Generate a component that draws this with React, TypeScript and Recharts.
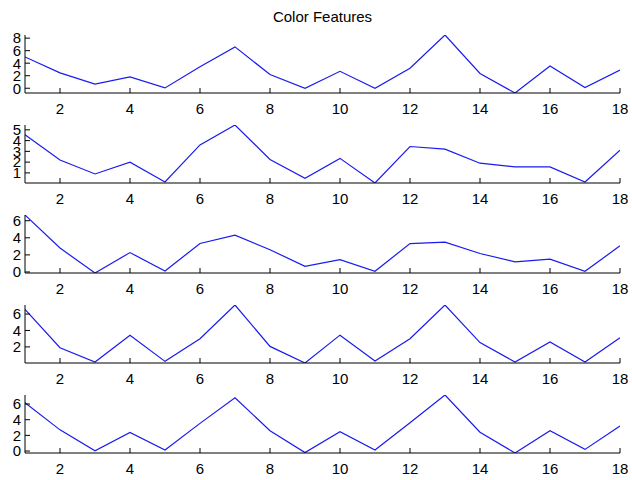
import { LineChart, Line, XAxis, YAxis } from "recharts";

const xValues = [1, 2, 3, 4, 5, 6, 7, 8, 9, 10, 11, 12, 13, 14, 15, 16, 17, 18];
const xTicks = [2, 4, 6, 8, 10, 12, 14, 16, 18];

const feature1 = [5.0, 2.45, 0.66, 1.82, 0.05, 3.44, 6.6, 2.2, 0.0, 2.7, 0.0, 3.2, 8.5, 2.35, -0.76, 3.55, 0.1, 2.9];
const feature2 = [4.55, 2.2, 0.9, 2.0, 0.15, 3.6, 5.45, 2.25, 0.5, 2.35, 0.06, 3.45, 3.2, 1.9, 1.55, 1.55, 0.15, 3.1];
const feature3 = [6.67, 2.8, -0.12, 2.27, 0.12, 3.33, 4.3, 2.6, 0.67, 1.45, 0.08, 3.33, 3.5, 2.16, 1.18, 1.5, 0.08, 3.06];
const feature4 = [6.57, 1.9, 0.16, 3.43, 0.24, 3.0, 7.1, 2.06, 0.04, 3.43, 0.29, 3.0, 7.1, 2.53, 0.16, 2.61, 0.16, 3.1];
const feature5 = [6.17, 2.7, 0.04, 2.36, 0.13, 3.53, 6.8, 2.6, -0.2, 2.47, 0.13, 3.62, 7.15, 2.4, -0.25, 2.6, 0.21, 3.2];

const yTicks1 = [0, 2, 4, 6, 8];
const yTicks2 = [1, 2, 3, 4, 5];
const yTicks3 = [0, 2, 4, 6];
const yTicks4 = [2, 4, 6];
const yTicks5 = [0, 2, 4, 6];

const panels = [
  { values: feature1, ticks: yTicks1 },
  { values: feature2, ticks: yTicks2 },
  { values: feature3, ticks: yTicks3 },
  { values: feature4, ticks: yTicks4 },
  { values: feature5, ticks: yTicks5 },
];

const FONT = "'Liberation Sans', Arial, sans-serif";
const tickStyle = { fontSize: 15, fill: "#000", fontFamily: FONT };
const blank = () => "";

const PLOT_H = 58;
const TOP_PAD = 5;
const BOTTOM_H = 27;

function Panel({ values, ticks, top }: { values: number[]; ticks: number[]; top: number }) {
  const data = xValues.map((x, i) => ({ x, y: values[i] }));
  const domain = [Math.min(...values), Math.max(...values)];
  return (
    <div style={{ position: "absolute", left: 0, top: top - TOP_PAD }}>
      <LineChart
        width={632}
        height={PLOT_H + TOP_PAD + BOTTOM_H}
        data={data}
        margin={{ top: TOP_PAD, right: 12, bottom: 0, left: 0 }}
      >
        <XAxis
          dataKey="x"
          type="number"
          domain={[1, 18]}
          ticks={xTicks}
          allowDataOverflow
          height={BOTTOM_H}
          stroke="#000"
          tickSize={-5}
          tickMargin={15}
          tick={tickStyle}
          interval={0}
        />
        <XAxis
          xAxisId="top"
          orientation="top"
          dataKey="x"
          type="number"
          domain={[1, 18]}
          ticks={xTicks}
          height={0}
          stroke="#000"
          tickSize={-5}
          tickFormatter={blank}
          interval={0}
        />
        <YAxis
          type="number"
          domain={domain}
          ticks={ticks}
          allowDataOverflow
          width={25}
          stroke="#000"
          tickSize={-5}
          tickMargin={9}
          tick={tickStyle}
          interval={0}
        />
        <YAxis
          yAxisId="r"
          orientation="right"
          type="number"
          domain={domain}
          ticks={ticks}
          allowDataOverflow
          width={0}
          stroke="#000"
          tickSize={-5}
          tickFormatter={blank}
          interval={0}
        />
        <Line
          type="linear"
          dataKey="y"
          stroke="#1a1aee"
          strokeWidth={1.2}
          dot={false}
          isAnimationActive={false}
        />
      </LineChart>
    </div>
  );
}

export default function App() {
  const tops = [35, 125, 215, 305, 395];
  return (
    <div
      style={{
        position: "absolute",
        left: 0,
        top: 0,
        width: 632,
        height: 480,
        background: "#fff",
        fontFamily: FONT,
      }}
    >
      <div
        style={{
          position: "absolute",
          left: 25,
          width: 595,
          top: 8,
          textAlign: "center",
          fontSize: 15,
          color: "#000",
        }}
      >
        Color Features
      </div>
      {panels.map((p, i) => (
        <Panel key={i} values={p.values} ticks={p.ticks} top={tops[i]} />
      ))}
    </div>
  );
}
